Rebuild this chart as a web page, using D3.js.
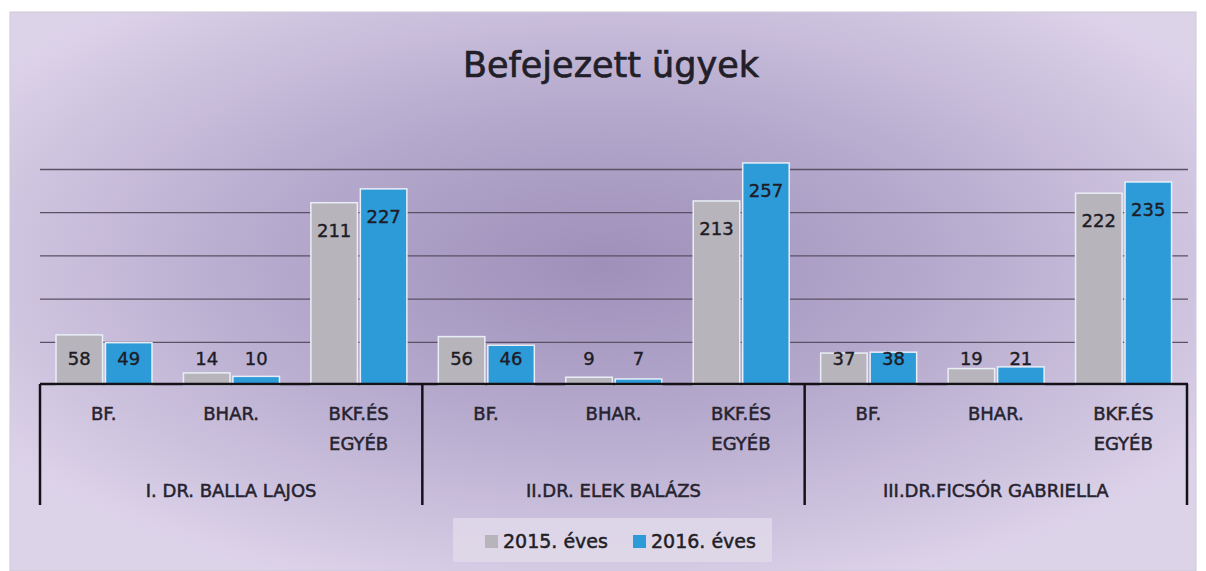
<!DOCTYPE html>
<html>
<head>
<meta charset="utf-8">
<script src="https://cdn.jsdelivr.net/npm/d3@7"></script>
<style>
  body { margin: 0; background: #fff; }
  svg { display: block; }
  text { font-family: "DejaVu Sans", sans-serif; }
</style>
</head>
<body>
<svg id="chart" width="1206" height="571"></svg>
<script>
// adatok
const groups = ['I. DR. BALLA LAJOS', 'II.DR. ELEK BALÁZS', 'III.DR.FICSÓR GABRIELLA'];
const subCats = ['BF.', 'BHAR.', 'BKF.ÉS EGYÉB'];
const seriesNames = ['2015. éves', '2016. éves'];
const values2015 = [58, 14, 211, 56, 9, 213, 37, 19, 222];
const values2016 = [49, 10, 227, 46, 7, 257, 38, 21, 235];
const gridTicks = [50, 100, 150, 200, 250];
const colors = ['#b7b5bb', '#2d9bd8'];

const svg = d3.select('#chart');
const W = 1206, H = 571;

// háttér színátmenet
const defs = svg.append('defs');
const grad = defs.append('radialGradient')
    .attr('id', 'bg')
    .attr('cx', '50%').attr('cy', '45%').attr('r', '62%');
grad.append('stop').attr('offset', '0%').attr('stop-color', '#9e90b9');
grad.append('stop').attr('offset', '45%').attr('stop-color', '#b5a9cd');
grad.append('stop').attr('offset', '100%').attr('stop-color', '#ddd3e9');

svg.append('rect')
    .attr('x', 10).attr('y', 12)
    .attr('width', 1186).attr('height', H - 12)
    .attr('fill', 'url(#bg)')
    .attr('stroke', '#cfc8d8');

// cím
svg.append('text')
    .attr('x', 611).attr('y', 77)
    .attr('text-anchor', 'middle')
    .attr('font-size', 35)
    .attr('fill', '#221f29')
    .attr('stroke', '#221f29').attr('stroke-width', 0.7)
    .text('Befejezett ügyek');

// skálák
const left = 40, right = 1187, base = 385;
const cats = [];
groups.forEach((g, gi) => subCats.forEach((s, si) => cats.push(gi + '|' + si)));

const x0 = d3.scaleBand().domain(cats).range([left, right]);
const x1 = d3.scaleBand().domain(seriesNames).range([16, 112]).paddingInner(0.06);
const y = d3.scaleLinear().domain([0, 250]).range([base, 169]);

// rácsvonalak
const grid = svg.append('g')
    .attr('transform', `translate(${left},0)`)
    .call(d3.axisLeft(y).tickValues(gridTicks).tickSize(-(right - left + 1)).tickFormat(''));
grid.select('.domain').remove();
grid.selectAll('.tick line').attr('stroke', '#5a5165').attr('stroke-width', 1.3);

// oszlopok
const rows = cats.map((c, i) => ({ cat: c, vals: [values2015[i], values2016[i]] }));

const barG = svg.append('g');
const catG = barG.selectAll('g.cat')
    .data(rows)
    .join('g')
    .attr('class', 'cat')
    .attr('transform', d => `translate(${x0(d.cat)},0)`);

catG.selectAll('rect')
    .data(d => d.vals.map((v, k) => ({ name: seriesNames[k], v, k })))
    .join('rect')
    .attr('x', d => x1(d.name))
    .attr('y', d => y(d.v))
    .attr('width', x1.bandwidth())
    .attr('height', d => base - y(d.v))
    .attr('fill', d => colors[d.k])
    .attr('stroke', '#e9eef6')
    .attr('stroke-width', 1.5);

// adatcímkék
catG.selectAll('text')
    .data(d => d.vals.map((v, k) => ({ name: seriesNames[k], v, k })))
    .join('text')
    .attr('x', d => x1(d.name) + x1.bandwidth() / 2)
    .attr('y', d => Math.min(y(d.v) + 34, 365))
    .attr('text-anchor', 'middle')
    .attr('font-size', 18)
    .attr('fill', '#1e1c26')
    .attr('stroke', '#1e1c26').attr('stroke-width', 0.4)
    .text(d => d.v);

// kategória tengely
const axisG = svg.append('g')
    .attr('transform', `translate(0,${base})`)
    .call(d3.axisBottom(x0).tickSize(0).tickFormat(''));
axisG.select('.domain').remove();

axisG.selectAll('.tick').each(function(c) {
    const label = subCats[+c.split('|')[1]];
    const t = d3.select(this).append('text')
        .attr('text-anchor', 'middle')
        .attr('font-size', 18)
        .attr('fill', '#26232f')
        .attr('stroke', '#26232f').attr('stroke-width', 0.5);
    label.split(' ').forEach((w, i) => {
        t.append('tspan').attr('x', 0).attr('y', 35 + i * 30).text(w);
    });
});

// csoport dobozok
const groupW = (right - left) / groups.length;
const boxG = svg.append('g').attr('stroke', '#141218').attr('stroke-width', 2.5);
boxG.append('line')
    .attr('x1', left).attr('x2', right + 1)
    .attr('y1', base - 1).attr('y2', base - 1);
d3.range(groups.length + 1).forEach(i => {
    boxG.append('line')
        .attr('x1', left + i * groupW).attr('x2', left + i * groupW)
        .attr('y1', base - 1).attr('y2', 505);
});

svg.append('g').selectAll('text')
    .data(groups)
    .join('text')
    .attr('x', (d, i) => left + (i + 0.5) * groupW)
    .attr('y', 497)
    .attr('text-anchor', 'middle')
    .attr('font-size', 18)
    .attr('fill', '#26232f')
    .attr('stroke', '#26232f').attr('stroke-width', 0.5)
    .text(d => d);

// jelmagyarázat
const legend = svg.append('g');
legend.append('rect')
    .attr('x', 453).attr('y', 518)
    .attr('width', 319).attr('height', 44)
    .attr('fill', '#dfd8e9').attr('opacity', 0.9);

const legX = [485, 633];
const item = legend.selectAll('g.item')
    .data(seriesNames)
    .join('g')
    .attr('class', 'item')
    .attr('transform', (d, i) => `translate(${legX[i]},535)`);
item.append('rect')
    .attr('width', 13).attr('height', 13)
    .attr('fill', (d, i) => colors[i]);
item.append('text')
    .attr('x', 18).attr('y', 13)
    .attr('font-size', 19)
    .attr('fill', '#221f29')
    .attr('stroke', '#221f29').attr('stroke-width', 0.5)
    .text(d => d);
</script>
</body>
</html>
